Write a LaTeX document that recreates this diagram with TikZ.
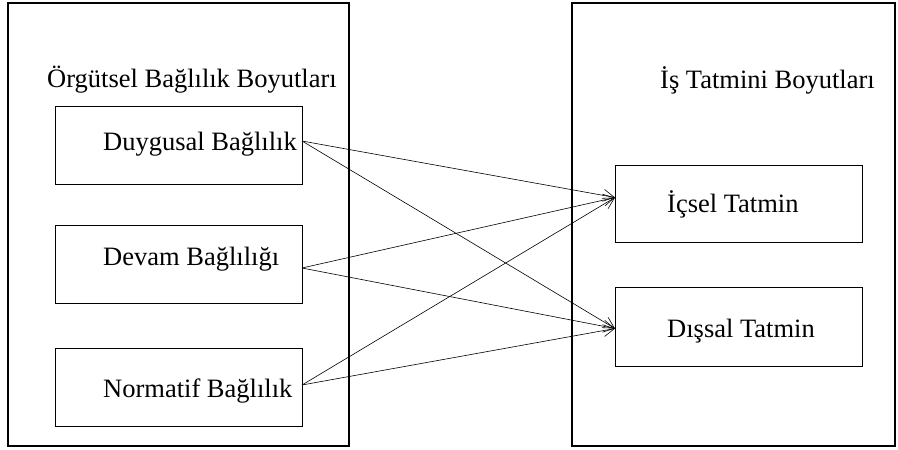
\documentclass[tikz,border=0pt]{standalone}
\usepackage{fontspec}
\setmainfont{Liberation Serif}
\usetikzlibrary{arrows.meta}
\begin{document}
\begin{tikzpicture}[x=1pt,y=-1pt,
  outerbox/.style={draw, line width=1.2pt, anchor=north west, inner sep=0pt, outer sep=0pt},
  innerbox/.style={draw, line width=1pt, anchor=north west, inner sep=0pt, outer sep=0pt},
  lbl/.style={font=\fontsize{26.5}{30}\selectfont, anchor=base west, inner sep=0pt},
  conn/.style={line width=0.6pt, -{Straight Barb[length=11pt,width=12pt,line width=0.6pt]}}]
\useasboundingbox (0,0) rectangle (898,450);
% outer boxes
\node[outerbox, minimum width=341pt, minimum height=443pt] (L) at (8,3) {};
\node[outerbox, minimum width=323pt, minimum height=443pt] (R) at (572,3) {};
% titles
\node[lbl] (Lt) at (47,87) {Örgütsel Bağlılık Boyutları};
\node[lbl] (Rt) at (660,88) {İş Tatmini Boyutları};
% left inner boxes
\node[innerbox, minimum width=247pt, minimum height=78pt] (duy) at (55,106) {};
\node[innerbox, minimum width=247pt, minimum height=78pt] (dev) at (55,225) {};
\node[innerbox, minimum width=247pt, minimum height=78pt] (nor) at (55,348) {};
\node[lbl] (duyt) at (103,150) {Duygusal Bağlılık};
\node[lbl] (devt) at (103,265) {Devam Bağlılığı};
\node[lbl] (nort) at (103,397) {Normatif Bağlılık};
% right inner boxes
\node[innerbox, minimum width=247pt, minimum height=77pt] (ic) at (615,165) {};
\node[innerbox, minimum width=247pt, minimum height=79pt] (dis) at (615,287) {};
\node[lbl] (ict) at (667,212) {İçsel Tatmin};
\node[lbl] (dist) at (667,337) {Dışsal Tatmin};
% connector end points
\coordinate (duyo) at ([yshift=4pt]duy.east);
\coordinate (devo) at ([yshift=-4pt]dev.east);
\coordinate (noro) at ([yshift=2pt]nor.east);
\coordinate (ici) at ([yshift=6pt]ic.west);
\coordinate (disi) at ([yshift=-2pt]dis.west);
% connectors
\draw[conn] (duyo) -- (ici);
\draw[conn] (duyo) -- (disi);
\draw[conn] (devo) -- (ici);
\draw[conn] (devo) -- (disi);
\draw[conn] (noro) -- (ici);
\draw[conn] (noro) -- (disi);
\end{tikzpicture}
\end{document}
